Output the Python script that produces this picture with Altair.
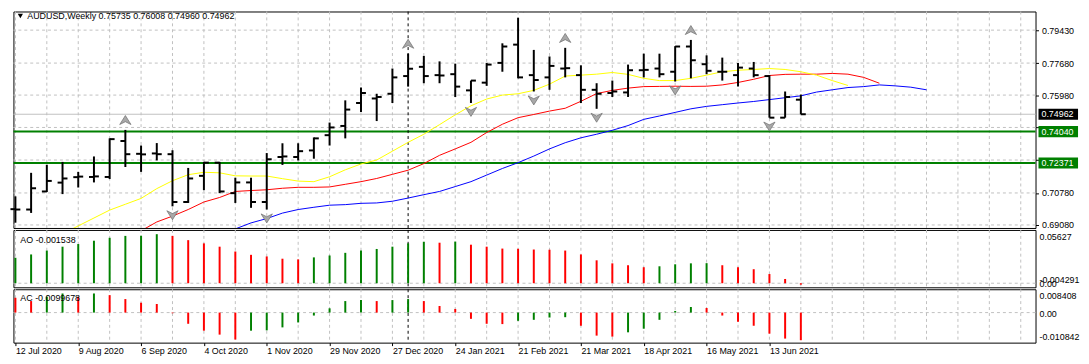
import altair as alt
import pandas as pd

FONT = "Liberation Sans"
GRID = "#c0c0c0"
W = 1034
H_PRICE, H_AO, H_AC = 219, 58, 54

# ---------------- data ----------------
date_labels = ["12 Jul 2020", "9 Aug 2020", "6 Sep 2020", "4 Oct 2020", "1 Nov 2020",
               "29 Nov 2020", "27 Dec 2020", "24 Jan 2021", "21 Feb 2021", "21 Mar 2021",
               "18 Apr 2021", "16 May 2021", "13 Jun 2021"]

opens = [0.6992, 0.6990, 0.7086, 0.7133, 0.7162, 0.7163, 0.7163, 0.7354, 0.7286, 0.7288,
         0.7284, 0.7030, 0.7169, 0.7239, 0.7077, 0.7134, 0.7030, 0.7269, 0.7269, 0.7304,
         0.7385, 0.7434, 0.7556, 0.7580, 0.7605, 0.7699, 0.7748, 0.7704, 0.7709, 0.7623,
         0.7664, 0.7769, 0.7866, 0.7704, 0.7692, 0.7739, 0.7704, 0.7626, 0.7609, 0.7612,
         0.7730, 0.7739, 0.7722, 0.7856, 0.7762, 0.7722, 0.7704, 0.7739, 0.7699, 0.7478,
         0.75735]
highs = [0.7060, 0.7185, 0.7228, 0.7243, 0.7190, 0.7272, 0.7368, 0.7413, 0.7330, 0.7343,
         0.7305, 0.7211, 0.7243, 0.7243, 0.7159, 0.7159, 0.7290, 0.7342, 0.7342, 0.7373,
         0.7452, 0.7570, 0.7638, 0.7605, 0.7739, 0.7818, 0.7806, 0.7777, 0.7765, 0.7675,
         0.7769, 0.7873, 0.8009, 0.7838, 0.7803, 0.7849, 0.7756, 0.7661, 0.7675, 0.7760,
         0.7818, 0.7818, 0.7858, 0.7891, 0.7809, 0.7797, 0.7769, 0.7774, 0.7704, 0.7617,
         0.76008]
lows = [0.6920, 0.6972, 0.7083, 0.7072, 0.7107, 0.7134, 0.7152, 0.7216, 0.7190, 0.7251,
        0.7007, 0.7025, 0.7093, 0.7077, 0.7025, 0.6999, 0.6990, 0.7227, 0.7251, 0.7260,
        0.7330, 0.7368, 0.7508, 0.7460, 0.7556, 0.7643, 0.7661, 0.7661, 0.7588, 0.7556,
        0.7647, 0.7722, 0.7687, 0.7617, 0.7626, 0.7692, 0.7556, 0.7525, 0.7588, 0.7588,
        0.7692, 0.7692, 0.7670, 0.7687, 0.7709, 0.7675, 0.7643, 0.7692, 0.7478, 0.7478,
        0.74960]
closes = [0.6990, 0.7103, 0.7142, 0.7155, 0.7165, 0.7166, 0.7364, 0.7284, 0.7283, 0.7284,
          0.7030, 0.7155, 0.7239, 0.7086, 0.7134, 0.7030, 0.7257, 0.7272, 0.7300, 0.7368,
          0.7426, 0.7521, 0.7609, 0.7588, 0.7692, 0.7738, 0.7699, 0.7702, 0.7643, 0.7675,
          0.7760, 0.7856, 0.7692, 0.7678, 0.7753, 0.7741, 0.7626, 0.7605, 0.7617, 0.7730,
          0.7732, 0.7709, 0.7856, 0.7783, 0.7727, 0.7722, 0.7744, 0.7704, 0.7478, 0.7588,
          0.74962]

# Alligator lines (lips yellow, teeth red, jaw blue), each starting at a bar index
lips_start = 3
lips = [0.6861, 0.6903, 0.6945, 0.6987, 0.7018, 0.7049, 0.7101, 0.7143, 0.7175, 0.7188,
        0.7185, 0.7169, 0.7168, 0.7168, 0.7154, 0.7141, 0.7138, 0.7164, 0.7201, 0.7232,
        0.7253, 0.7300, 0.7347, 0.7390, 0.7441, 0.7493, 0.7541, 0.7577, 0.7598, 0.7605,
        0.7623, 0.7656, 0.7699, 0.7704, 0.7709, 0.7718, 0.7708, 0.7687, 0.7675, 0.7675,
        0.7687, 0.7704, 0.7722, 0.7730, 0.7734, 0.7739, 0.7734, 0.7722, 0.7704, 0.7675,
        0.7649]
teeth_start = 8
teeth = [0.6877, 0.6924, 0.6955, 0.6990, 0.7030, 0.7054, 0.7086, 0.7091, 0.7095, 0.7103,
         0.7108, 0.7108, 0.7110, 0.7124, 0.7138, 0.7155, 0.7177, 0.7199, 0.7234, 0.7278,
         0.7312, 0.7347, 0.7399, 0.7443, 0.7478, 0.7495, 0.7513, 0.7528, 0.7565, 0.7606,
         0.7623, 0.7635, 0.7643, 0.7644, 0.7645, 0.7644, 0.7645, 0.7652, 0.7665, 0.7682,
         0.7702, 0.7708, 0.7709, 0.7709, 0.7713, 0.7709, 0.7692, 0.7661]
jaw_start = 13
jaw = [0.6866, 0.6887, 0.6919, 0.6942, 0.6971, 0.6990, 0.7002, 0.7013, 0.7016, 0.7023,
       0.7025, 0.7034, 0.7051, 0.7069, 0.7086, 0.7112, 0.7138, 0.7173, 0.7208, 0.7239,
       0.7274, 0.7312, 0.7345, 0.7371, 0.7390, 0.7411, 0.7436, 0.7469, 0.7487, 0.7506,
       0.7525, 0.7538, 0.7547, 0.7556, 0.7564, 0.7574, 0.7584, 0.7594, 0.7614, 0.7626,
       0.7638, 0.7643, 0.7652, 0.7647, 0.7640, 0.7626]

fractal_up = [7, 25, 32, 35, 43]
fractal_down = [10, 16, 29, 33, 37, 42, 48]

bid_price = 0.74962
level_prices = [0.74040, 0.72371]
level_labels = ["0.74040", "0.72371"]
price_ticks = [0.6908, 0.7078, 0.7253, 0.7426, 0.7598, 0.7768, 0.7943]
price_domain = [0.6892, 0.8042]
separator_idx = [25]

ao = [0.0269, 0.0304, 0.0345, 0.0386, 0.0414, 0.0449, 0.0480, 0.0500, 0.0502, 0.0518,
      0.0500, 0.0455, 0.0421, 0.0386, 0.0335, 0.0300, 0.0283, 0.0259, 0.0252, 0.0273,
      0.0293, 0.0321, 0.0345, 0.0362, 0.0386, 0.0421, 0.0438, 0.0428, 0.0440, 0.0407,
      0.0386, 0.0366, 0.0364, 0.0356, 0.0354, 0.0345, 0.0304, 0.0242, 0.0210, 0.0190,
      0.0169, 0.0179, 0.0200, 0.0210, 0.0212, 0.0190, 0.0169, 0.0148, 0.0097, 0.0045,
      -0.001538]
ao_before = 0.0250
ac = [0.00534, 0.00415, 0.00570, 0.00688, 0.00570, 0.00689, 0.00629, 0.00487, 0.00356, 0.00309,
      -0.00024, -0.00404, -0.00653, -0.00795, -0.00973, -0.00653, -0.00641, -0.00534, -0.00356, -0.00107,
      0.00154, 0.00415, 0.00451, 0.00415, 0.00451, 0.00487, 0.00415, 0.00237, 0.00131, -0.00226,
      -0.00404, -0.00415, -0.00297, -0.00261, -0.00178, -0.00166, -0.00475, -0.00831, -0.00867, -0.00712,
      -0.00582, -0.00261, 0.00059, 0.00202, 0.00166, -0.00107, -0.00332, -0.00475, -0.00760, -0.00938,
      -0.0099678]
ac_before = 0.0065
ao_range = [-0.004291, 0.05627]
ac_range = [-0.010842, 0.008408]

header_text = "AUDUSD,Weekly  0.75735 0.76008 0.74960 0.74962"
ao_title = "AO -0.001538"
ac_title = "AC -0.0099678"

# ---------------- frames ----------------
n = len(opens)
bars = pd.DataFrame({"idx": list(range(n)), "open": opens, "high": highs,
                     "low": lows, "close": closes})


def line_df(start, vals):
    return pd.DataFrame({"idx": [start + k for k in range(len(vals))], "v": vals})


def osc_df(vals, before):
    prev = [before] + vals[:-1]
    cols = ["#008000" if v > p else "#ff0000" for v, p in zip(vals, prev)]
    return pd.DataFrame({"idx": list(range(len(vals))), "v": vals,
                         "zero": [0.0] * len(vals), "col": cols})


ao_df = osc_df(ao, ao_before)
ac_df = osc_df(ac, ac_before)

up_df = bars[bars.idx.isin(fractal_up)]
dn_df = bars[bars.idx.isin(fractal_down)]

# ---------------- scales / axes ----------------
xs = alt.Scale(domain=[-0.125, 64.94], nice=False, zero=False)
grid_x = list(range(0, 65, 2))
label_idx = [4 * k for k in range(len(date_labels))]
lab_expr = "[" + ",".join("'%s'" % d for d in date_labels) + "][round(datum.value / 4)]"
x_ax_bot = alt.Axis(values=label_idx, grid=False, labelExpr=lab_expr,
                    labelAlign="left", labelBaseline="top", labelPadding=1,
                    labelFont=FONT, labelFontSize=9, labelColor="black",
                    labelOverlap=False, labelFlush=False, labelBound=False,
                    tickSize=3, tickColor="black", domain=False, title=None)


def X(axis=None):
    return alt.X("idx:Q", scale=xs, axis=axis)


ps = alt.Scale(domain=price_domain, nice=False, zero=False)
p_axis = alt.Axis(orient="right", values=price_ticks, grid=False,
                  labelExpr="(datum.value > 0.72 && datum.value < 0.75) ? '' : format(datum.value, '.5f')",
                  tickSize=3, tickColor="black", domain=False, labelPadding=3,
                  labelOverlap=False, labelFont=FONT, labelFontSize=9,
                  labelColor="black", title=None)


def PY(field):
    return alt.Y(field + ":Q", scale=ps, axis=p_axis)


UP_PATH = "M0,-0.8 L1,0.8 L0,0.3 L-1,0.8 Z"
DN_PATH = "M0,0.8 L1,-0.8 L0,-0.3 L-1,-0.8 Z"
BOX = "M-1,-0.28 L1,-0.28 L1,0.28 L-1,0.28 Z"


def vgrid(axis=None):
    return alt.Chart(pd.DataFrame({"idx": grid_x})).mark_rule(
        color=GRID, strokeDash=[3, 3], strokeWidth=1).encode(x=X(axis))


def vsep(axis=None):
    return alt.Chart(pd.DataFrame({"idx": separator_idx})).mark_rule(
        color="black", strokeDash=[3, 3], strokeWidth=1).encode(x=X(axis))


# ---------------- price panel ----------------
hgrid = alt.Chart(pd.DataFrame({"p": price_ticks})).mark_rule(
    color=GRID, strokeDash=[3, 3], strokeWidth=1).encode(y=PY("p"))
bid = alt.Chart(pd.DataFrame({"p": [bid_price]})).mark_rule(
    color="#c0c0c0", strokeWidth=1).encode(y=PY("p"))
levels = alt.Chart(pd.DataFrame({"p": level_prices})).mark_rule(
    color="#008000", strokeWidth=2).encode(y=PY("p"))


def ma(start, vals, color):
    return alt.Chart(line_df(start, vals)).mark_line(
        color=color, strokeWidth=1, clip=True).encode(x=X(), y=PY("v"))


hl = alt.Chart(bars).mark_rule(color="black", strokeWidth=2).encode(
    x=X(), y=PY("low"), y2="high")
op = alt.Chart(bars).mark_rule(color="black", strokeWidth=2, x2Offset=-5).encode(
    x=X(), x2="idx", y=PY("open"))
cl = alt.Chart(bars).mark_rule(color="black", strokeWidth=2, x2Offset=5).encode(
    x=X(), x2="idx", y=PY("close"))

fr_up = alt.Chart(up_df).mark_point(shape=UP_PATH, filled=True, fill="#a8a8a8",
                                    stroke="#6e6e6e", strokeWidth=0.7, size=130,
                                    opacity=1, yOffset=-10, clip=True).encode(
    x=X(), y=PY("high"))
fr_dn = alt.Chart(dn_df).mark_point(shape=DN_PATH, filled=True, fill="#a8a8a8",
                                    stroke="#6e6e6e", strokeWidth=0.7, size=130,
                                    opacity=1, yOffset=9, clip=True).encode(
    x=X(), y=PY("low"))

lab_df = pd.DataFrame({"p": [bid_price] + level_prices,
                       "t": ["%.5f" % bid_price] + level_labels,
                       "bg": ["black", "#008000", "#008000"]})
boxes = alt.Chart(lab_df).mark_point(shape=BOX, filled=True, size=1600, opacity=1,
                                     strokeWidth=0).encode(
    x=alt.value(W + 23), y=PY("p"), fill=alt.Fill("bg:N", scale=None))
box_txt = alt.Chart(lab_df).mark_text(align="left", baseline="middle", font=FONT,
                                      fontSize=9, color="white").encode(
    x=alt.value(W + 6), y=PY("p"), text="t:N")

one = pd.DataFrame({"t": [header_text]})
tri = alt.Chart(one).mark_point(shape="triangle-down", filled=True, color="black",
                                size=28, opacity=1).encode(x=alt.value(7), y=alt.value(4.5))
hdr = alt.Chart(one).mark_text(align="left", baseline="middle", font=FONT, fontSize=9,
                               color="black").encode(x=alt.value(14), y=alt.value(4.5),
                                                     text="t:N")

price = alt.layer(vgrid(), hgrid, bid, levels, vsep(),
                  ma(jaw_start, jaw, "#0000ff"), ma(teeth_start, teeth, "#ff0000"),
                  ma(lips_start, lips, "#ffff00"),
                  hl, op, cl, fr_up, fr_dn, boxes, box_txt, tri, hdr).properties(
    width=W, height=H_PRICE)


# ---------------- oscillator panels ----------------
def osc_panel(df, rng, title, labels, height, xaxis, title_y):
    sc = alt.Scale(domain=rng, nice=False, zero=False)
    Y = alt.Y("v:Q", scale=sc, axis=None)
    zero_line = alt.Chart(pd.DataFrame({"v": [0.0]})).mark_rule(
        color=GRID, strokeDash=[3, 3], strokeWidth=1).encode(y=Y)
    bars_l = alt.Chart(df).mark_rule(strokeWidth=2).encode(
        x=X(xaxis), y=Y, y2="zero", color=alt.Color("col:N", scale=None))
    layers = [vgrid(xaxis), zero_line, vsep(xaxis), bars_l]
    for val, txt, base, dy in labels:
        layers.append(alt.Chart(pd.DataFrame({"v": [val], "t": [txt]})).mark_text(
            align="left", baseline=base, dy=dy, font=FONT, fontSize=9,
            color="black").encode(x=alt.value(W + 4), y=Y, text="t:N"))
    layers.append(alt.Chart(pd.DataFrame({"t": [title]})).mark_text(
        align="left", baseline="middle", font=FONT, fontSize=9, color="black").encode(
        x=alt.value(7), y=alt.value(title_y), text="t:N"))
    return alt.layer(*layers).properties(width=W, height=height)


ao_panel = osc_panel(ao_df, ao_range, ao_title,
                     [(ao_range[1], "0.05627", "top", 3), (0.0, "0.00", "middle", 1),
                      (ao_range[0], "-0.004291", "bottom", -2)], H_AO, None, 10)
ac_panel = osc_panel(ac_df, ac_range, ac_title,
                     [(ac_range[1], "0.008408", "top", 3), (0.0, "0.00", "middle", 1),
                      (ac_range[0], "-0.010842", "bottom", -1)], H_AC, x_ax_bot, 9)

chart = alt.vconcat(price, ao_panel, ac_panel, spacing=2, bounds="flush").properties(
    padding={"left": 0.5, "top": 0.5, "right": 0, "bottom": 0},
    background="white").configure_view(stroke="black", strokeWidth=1)

chart.save("out.html", embed_options={"renderer": "svg", "actions": False})
